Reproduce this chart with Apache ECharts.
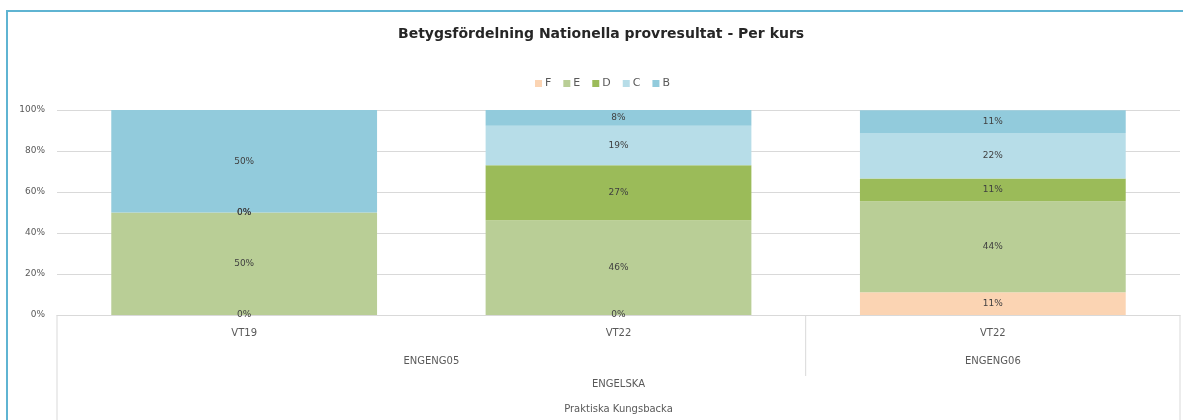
<!DOCTYPE html>
<html lang="sv">
<head>
<meta charset="UTF-8">
<title>Betygsfördelning</title>
<style>
  * { margin: 0; padding: 0; }
  body { background: #fff; }
  #chart-container { width: 1183px; height: 420px; }
</style>
</head>
<body>
<div id="chart-container"></div>
<script src="https://cdn.jsdelivr.net/npm/echarts@6.0.0/dist/echarts.min.js"></script>
<script>
// terms per bar, course groups, subject and school
var terms = ['VT19', 'VT22', 'VT22'];
var courses = ['ENGENG05', 'ENGENG05', 'ENGENG06'];
var subject = 'ENGELSKA';
var school = 'Praktiska Kungsbacka';
var grades = ['F', 'E', 'D', 'C', 'B'];

// share of students per grade (percent)
var gradeF = [0, 0, 11.1];
var gradeE = [50, 46.2, 44.4];
var gradeD = [0, 26.9, 11.1];
var gradeC = [0, 19.2, 22.2];
var gradeB = [50, 7.7, 11.1];

var colors = ['#fbd4b3', '#b9ce96', '#9bbb59', '#b7dde8', '#92cbdc'];
var font = 'DejaVu Sans';

var dom = document.getElementById('chart-container');
var myChart = echarts.init(dom, null, { renderer: 'canvas' });

var values = [gradeF, gradeE, gradeD, gradeC, gradeB];
var series = grades.map(function (g, i) {
  return {
    name: g,
    type: 'bar',
    stack: 'total',
    barCategoryGap: '29%',
    data: values[i],
    itemStyle: { color: colors[i] },
    label: {
      show: true,
      position: 'inside',
      color: '#404040',
      fontSize: 9,
      fontFamily: font,
      formatter: function (p) { return Math.round(p.value) + '%'; }
    }
  };
});

var option = {
  animation: false,
  title: {
    text: 'Betygsfördelning Nationella provresultat - Per kurs',
    left: 393,
    top: 22,
    textStyle: { fontFamily: font, fontSize: 14, fontWeight: 'bold', color: '#262626' }
  },
  legend: {
    top: 73,
    left: 530,
    itemWidth: 7,
    itemHeight: 7,
    itemGap: 12,
    icon: 'rect',
    textStyle: { fontFamily: font, fontSize: 11, color: '#595959', padding: [0, 0, 0, -2] }
  },
  grid: { left: 57, right: 3, top: 110, bottom: 105 },
  xAxis: {
    type: 'category',
    data: terms,
    axisLine: { show: true, lineStyle: { color: '#d9d9d9' } },
    axisTick: { show: false },
    axisLabel: { margin: 13, color: '#595959', fontSize: 10, fontFamily: font }
  },
  yAxis: {
    type: 'value',
    min: 0,
    max: 100,
    interval: 20,
    axisLabel: { formatter: '{value}%', color: '#595959', fontSize: 9, fontFamily: font, margin: 12 },
    splitLine: { lineStyle: { color: '#d9d9d9' } },
    axisLine: { show: false },
    axisTick: { show: false }
  },
  series: series
};
myChart.setOption(option);

// multi-level category labels and box lines below the plot
function drawLevels() {
  var W = myChart.getWidth(), H = myChart.getHeight();
  var left = 57, right = W - 3, base = H - 105;
  var px = terms.map(function (t, i) { return myChart.convertToPixel({ xAxisIndex: 0 }, i); });
  var txt = { fontFamily: font, fontSize: 10, fill: '#595959', align: 'center', verticalAlign: 'middle' };
  var els = [];
  // group labels
  var groups = [];
  courses.forEach(function (c, i) {
    var last = groups[groups.length - 1];
    if (last && last.name === c) { last.end = i; } else { groups.push({ name: c, start: i, end: i }); }
  });
  groups.forEach(function (g, k) {
    var x = (px[g.start] + px[g.end]) / 2;
    els.push({ type: 'text', style: Object.assign({ text: g.name, x: x, y: base + 46 }, txt) });
    if (k > 0) {
      var bx = (px[g.start - 1] + px[g.start]) / 2;
      els.push({ type: 'line', shape: { x1: bx, y1: base, x2: bx, y2: base + 61 }, style: { stroke: '#d9d9d9', lineWidth: 1 } });
    }
  });
  els.push({ type: 'text', style: Object.assign({ text: subject, x: (left + right) / 2, y: base + 69 }, txt) });
  els.push({ type: 'text', style: Object.assign({ text: school, x: (left + right) / 2, y: base + 94 }, txt) });
  els.push({ type: 'line', shape: { x1: left, y1: base, x2: left, y2: H }, style: { stroke: '#d9d9d9', lineWidth: 1 } });
  els.push({ type: 'line', shape: { x1: right, y1: base, x2: right, y2: H }, style: { stroke: '#d9d9d9', lineWidth: 1 } });
  // chart frame
  els.push({ type: 'rect', shape: { x: 7, y: 11, width: W + 20, height: H + 20 }, style: { fill: null, stroke: '#5fb4d2', lineWidth: 2 } });
  myChart.setOption({ graphic: els });
}
drawLevels();

window.addEventListener('resize', function () { myChart.resize(); drawLevels(); });
</script>
</body>
</html>
